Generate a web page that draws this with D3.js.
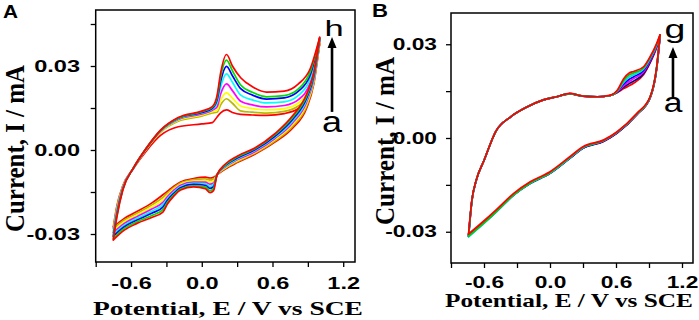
<!DOCTYPE html>
<html lang="en">
<head>
<meta charset="UTF-8">
<title>Cyclic voltammograms A and B</title>
<script src="https://d3js.org/d3.v7.min.js"></script>
<style>
  body { margin: 0; background: #fff; }
  svg { display: block; }
  .tick text { font-family: "Liberation Sans", Arial, sans-serif; font-weight: bold; font-size: 16px; fill: #000; }
  .tick line { stroke: #000; stroke-width: 1.3px; }
  .title { font-family: "Liberation Serif", "Times New Roman", serif; font-weight: bold; fill: #000; }
  .panel { font-family: "Liberation Sans", Arial, sans-serif; font-weight: bold; }
  .note { font-family: "Liberation Sans", Arial, sans-serif; fill: #000; }
</style>
</head>
<body>
<svg id="chart" width="699" height="320"></svg>
<script>
// ---------- panel A : potentials (V vs SCE), forward scan then reverse scan
const potA_fwd = [-0.75, -0.72, -0.67, -0.58, -0.47, -0.35, -0.2, 0.0, 0.09, 0.13, 0.16, 0.21, 0.26, 0.33, 0.43, 0.55, 0.7, 0.82, 0.92, 1.0];
const potA_rev = [1.0, 0.95, 0.89, 0.77, 0.62, 0.45, 0.3, 0.2, 0.13, 0.10, 0.07, 0.03, -0.07, -0.18, -0.24, -0.29, -0.33, -0.42, -0.55, -0.66, -0.75];

// currents (mA): forward values, then reverse values
const curA_a = [-0.0275, -0.0200, -0.0128, -0.0066, -0.0003, 0.0052, 0.0083, 0.0093, 0.0098, 0.0118, 0.0133, 0.0143, 0.0134, 0.0127, 0.0125, 0.0124, 0.0130, 0.0148, 0.0200, 0.0380,
  0.0380, 0.0235, 0.0150, 0.0078, 0.0028, -0.0015, -0.0045, -0.0068, -0.0088, -0.0097, -0.0100, -0.0097, -0.0102, -0.0114, -0.0130, -0.0147, -0.0160, -0.0188, -0.0220, -0.0245, -0.0275];
const curA_b = [-0.0281, -0.0205, -0.0130, -0.0066, 0.0003, 0.0063, 0.0103, 0.0121, 0.0132, 0.0135, 0.0161, 0.0183, 0.0167, 0.0140, 0.0135, 0.0132, 0.0138, 0.0157, 0.0214, 0.0383,
  0.0383, 0.0241, 0.0157, 0.0084, 0.0032, -0.0012, -0.0042, -0.0065, -0.0088, -0.0104, -0.0107, -0.0103, -0.0106, -0.0118, -0.0135, -0.0153, -0.0169, -0.0195, -0.0226, -0.0251, -0.0281];
const curA_c = [-0.0288, -0.0211, -0.0132, -0.0065, 0.0004, 0.0065, 0.0106, 0.0125, 0.0138, 0.0142, 0.0177, 0.0204, 0.0185, 0.0157, 0.0148, 0.0143, 0.0148, 0.0168, 0.0227, 0.0387,
  0.0387, 0.0247, 0.0165, 0.0091, 0.0037, -0.0009, -0.0038, -0.0063, -0.0088, -0.0111, -0.0115, -0.0109, -0.0111, -0.0122, -0.0140, -0.0160, -0.0178, -0.0203, -0.0232, -0.0257, -0.0288];
const curA_d = [-0.0295, -0.0217, -0.0134, -0.0065, 0.0005, 0.0067, 0.0109, 0.0129, 0.0142, 0.0154, 0.0200, 0.0236, 0.0212, 0.0174, 0.0161, 0.0154, 0.0159, 0.0180, 0.0241, 0.0390,
  0.0390, 0.0252, 0.0172, 0.0097, 0.0041, -0.0006, -0.0035, -0.0060, -0.0088, -0.0118, -0.0122, -0.0115, -0.0115, -0.0126, -0.0145, -0.0166, -0.0187, -0.0210, -0.0238, -0.0263, -0.0295];
const curA_e = [-0.0301, -0.0222, -0.0137, -0.0065, 0.0006, 0.0068, 0.0111, 0.0132, 0.0146, 0.0168, 0.0225, 0.0272, 0.0242, 0.0196, 0.0179, 0.0168, 0.0172, 0.0195, 0.0254, 0.0393,
  0.0393, 0.0258, 0.0179, 0.0103, 0.0045, -0.0002, -0.0032, -0.0058, -0.0088, -0.0124, -0.0130, -0.0120, -0.0119, -0.0131, -0.0151, -0.0173, -0.0195, -0.0218, -0.0244, -0.0269, -0.0301];
const curA_f = [-0.0308, -0.0228, -0.0139, -0.0065, 0.0006, 0.0069, 0.0113, 0.0134, 0.0149, 0.0179, 0.0245, 0.0299, 0.0265, 0.0219, 0.0196, 0.0182, 0.0186, 0.0210, 0.0268, 0.0397,
  0.0397, 0.0263, 0.0186, 0.0109, 0.0049, 0.0001, -0.0029, -0.0055, -0.0088, -0.0131, -0.0137, -0.0126, -0.0123, -0.0135, -0.0156, -0.0179, -0.0204, -0.0225, -0.0250, -0.0275, -0.0308];
const curA_g = [-0.0315, -0.0234, -0.0141, -0.0064, 0.0007, 0.0070, 0.0114, 0.0137, 0.0152, 0.0187, 0.0261, 0.0321, 0.0283, 0.0232, 0.0206, 0.0190, 0.0194, 0.0218, 0.0279, 0.0399,
  0.0399, 0.0269, 0.0193, 0.0116, 0.0054, 0.0004, -0.0025, -0.0053, -0.0088, -0.0138, -0.0145, -0.0132, -0.0128, -0.0139, -0.0161, -0.0186, -0.0213, -0.0233, -0.0256, -0.0281, -0.0315];
const curA_h = [-0.0321, -0.0239, -0.0143, -0.0064, 0.0007, 0.0071, 0.0116, 0.0139, 0.0155, 0.0195, 0.0275, 0.0341, 0.0300, 0.0258, 0.0226, 0.0207, 0.0210, 0.0236, 0.0290, 0.0402,
  0.0402, 0.0275, 0.0200, 0.0122, 0.0058, 0.0007, -0.0022, -0.0050, -0.0088, -0.0145, -0.0152, -0.0138, -0.0132, -0.0143, -0.0166, -0.0192, -0.0222, -0.0240, -0.0262, -0.0287, -0.0321];

// ---------- panel B
const potB_fwd = [-0.74, -0.71, -0.67, -0.6, -0.49, -0.36, -0.21, -0.06, 0.06, 0.18, 0.30, 0.43, 0.55, 0.61, 0.67, 0.72, 0.76, 0.85, 0.91, 0.97, 1.0];
const potB_rev = [1.0, 0.97, 0.91, 0.79, 0.61, 0.49, 0.30, 0.18, 0.0, -0.18, -0.33, -0.49, -0.61, -0.74];

const curB_a = [-0.0309, -0.0200, -0.0135, -0.0072, 0.0023, 0.0067, 0.0099, 0.0122, 0.0132, 0.0141, 0.0134, 0.0132, 0.0136, 0.0145, 0.0158, 0.0167, 0.0175, 0.0202, 0.0240, 0.0290, 0.0324,
  0.0324, 0.0222, 0.0128, 0.0075, 0.0016, -0.0010, -0.0032, -0.0064, -0.0112, -0.0144, -0.0181, -0.0234, -0.0272, -0.0309];
const curB_b = [-0.0311, -0.0200, -0.0135, -0.0072, 0.0023, 0.0067, 0.0099, 0.0122, 0.0132, 0.0141, 0.0134, 0.0132, 0.0136, 0.0146, 0.0163, 0.0174, 0.0182, 0.0206, 0.0243, 0.0292, 0.0325,
  0.0325, 0.0223, 0.0128, 0.0075, 0.0016, -0.0010, -0.0033, -0.0065, -0.0113, -0.0145, -0.0182, -0.0235, -0.0273, -0.0311];
const curB_c = [-0.0313, -0.0201, -0.0135, -0.0072, 0.0023, 0.0067, 0.0099, 0.0122, 0.0132, 0.0142, 0.0134, 0.0132, 0.0136, 0.0147, 0.0168, 0.0181, 0.0190, 0.0211, 0.0247, 0.0294, 0.0326,
  0.0326, 0.0224, 0.0129, 0.0076, 0.0017, -0.0009, -0.0032, -0.0064, -0.0112, -0.0145, -0.0182, -0.0236, -0.0274, -0.0313];
const curB_d = [-0.0315, -0.0201, -0.0135, -0.0072, 0.0023, 0.0067, 0.0099, 0.0122, 0.0132, 0.0142, 0.0134, 0.0132, 0.0136, 0.0148, 0.0173, 0.0188, 0.0196, 0.0216, 0.0250, 0.0296, 0.0327,
  0.0327, 0.0225, 0.0130, 0.0077, 0.0017, -0.0009, -0.0032, -0.0065, -0.0113, -0.0146, -0.0183, -0.0237, -0.0275, -0.0315];
const curB_e = [-0.0316, -0.0201, -0.0135, -0.0072, 0.0023, 0.0067, 0.0099, 0.0122, 0.0132, 0.0142, 0.0134, 0.0132, 0.0136, 0.0149, 0.0178, 0.0195, 0.0202, 0.0220, 0.0253, 0.0298, 0.0328,
  0.0328, 0.0226, 0.0130, 0.0077, 0.0018, -0.0008, -0.0031, -0.0064, -0.0112, -0.0145, -0.0183, -0.0237, -0.0276, -0.0316];
const curB_f = [-0.0314, -0.0200, -0.0134, -0.0072, 0.0023, 0.0067, 0.0099, 0.0122, 0.0132, 0.0142, 0.0134, 0.0132, 0.0136, 0.0150, 0.0184, 0.0202, 0.0208, 0.0224, 0.0257, 0.0300, 0.0329,
  0.0329, 0.0227, 0.0131, 0.0078, 0.0019, -0.0007, -0.0030, -0.0063, -0.0111, -0.0144, -0.0182, -0.0236, -0.0275, -0.0314];
const curB_g = [-0.0307, -0.0198, -0.0134, -0.0072, 0.0023, 0.0067, 0.0099, 0.0122, 0.0132, 0.0143, 0.0134, 0.0132, 0.0137, 0.0152, 0.0190, 0.0208, 0.0213, 0.0228, 0.0260, 0.0303, 0.0330,
  0.0330, 0.0228, 0.0132, 0.0079, 0.0020, -0.0006, -0.0028, -0.0060, -0.0108, -0.0140, -0.0177, -0.0230, -0.0268, -0.0307];

// ticks
const xMajor = [-0.6, 0.0, 0.6, 1.2];
const xMinor = [-0.9, -0.3, 0.3, 0.9];
const yMajor = [-0.03, 0.0, 0.03];
const yMinorA = [-0.015, 0.015, 0.045];
const yMinorB = [-0.015, 0.015];

const colorsA = ['#ff0000', '#b8b800', '#ffff00', '#ff00ff', '#00ffff', '#0000ff', '#00dd00', '#ff0000'];
const colorsB = ['#ff0000', '#000080', '#ff00ff', '#0000ff', '#00e0e0', '#00cc00', '#ff0000'];

const svg = d3.select('#chart');

function stretchText(sel, k) {
  sel.each(function() {
    const w = this.getComputedTextLength();
    if (w > 0) d3.select(this).attr('textLength', w * k).attr('lengthAdjust', 'spacingAndGlyphs');
  });
}

function drawPanel(p) {
  const x = d3.scaleLinear().domain([-0.9, 1.3]).range([p.left, p.right]);
  const y = d3.scaleLinear().domain(p.yDomain).range([p.bottom, p.top]);
  const g = svg.append('g');

  const line = d3.line()
    .x(d => x(d[0]))
    .y(d => y(d[1]))
    .curve(d3.curveMonotoneX);

  const n = p.fwd.length;
  p.series.forEach((cur, k) => {
    const up = p.fwd.map((v, i) => [v, cur[i]]);
    const down = p.rev.map((v, i) => [v, cur[n + i]]).reverse();
    [up, down].forEach(br => {
      g.append('path')
        .attr('d', line(br))
        .attr('fill', 'none')
        .attr('stroke', p.colors[k])
        .attr('stroke-width', 1.7)
        .attr('stroke-linejoin', 'round')
        .attr('stroke-linecap', 'round');
    });
  });

  // axes
  const xa = g.append('g')
    .attr('transform', `translate(0,${p.bottom})`)
    .call(d3.axisBottom(x)
      .tickValues(xMajor.concat(xMinor))
      .tickSize(5)
      .tickPadding(p.xPad)
      .tickFormat(d => xMajor.includes(d) ? d.toFixed(1) : ''));
  const ya = g.append('g')
    .attr('transform', `translate(${p.left},0)`)
    .call(d3.axisLeft(y)
      .tickValues(yMajor.concat(p.yMinor))
      .tickSize(5)
      .tickPadding(p.yPad)
      .tickFormat(d => yMajor.includes(d) ? d.toFixed(2) : ''));
  xa.select('.domain').remove();
  ya.select('.domain').remove();
  stretchText(xa.selectAll('text'), p.stretch);
  stretchText(ya.selectAll('text'), p.stretch);

  g.append('rect')
    .attr('x', p.left).attr('y', p.top)
    .attr('width', p.right - p.left).attr('height', p.bottom - p.top)
    .attr('fill', 'none').attr('stroke', '#000').attr('stroke-width', 1.5);

  // axis titles
  g.append('text').attr('class', 'title')
    .attr('x', p.xTitle[0]).attr('y', p.xTitle[1])
    .attr('text-anchor', 'middle').attr('font-size', 19)
    .attr('textLength', p.xTitle[2]).attr('lengthAdjust', 'spacingAndGlyphs')
    .text('Potential, E / V vs SCE');
  g.append('text').attr('class', 'title')
    .attr('transform', `translate(${p.yTitle[0]},${p.yTitle[1]}) scale(1.2,1) rotate(-90)`)
    .attr('text-anchor', 'middle').attr('font-size', 22)
    .attr('textLength', p.yTitle[2]).attr('lengthAdjust', 'spacingAndGlyphs')
    .text('Current, I / mA');

  // panel letter
  g.append('text').attr('class', 'panel')
    .attr('x', p.label[0]).attr('y', p.label[1])
    .attr('font-size', p.label[3])
    .attr('textLength', p.label[2]).attr('lengthAdjust', 'spacingAndGlyphs')
    .text(p.name);

  // arrow annotation a -> last curve
  const ax = x(p.arrow.v);
  const tip = y(p.arrow.top), tail = y(p.arrow.bottom);
  g.append('line')
    .attr('x1', ax).attr('x2', ax).attr('y1', tail).attr('y2', tip + 9)
    .attr('stroke', '#000').attr('stroke-width', 2.6);
  g.append('path')
    .attr('d', `M${ax},${tip} L${ax - 4.5},${tip + 11} L${ax + 4.5},${tip + 11} Z`)
    .attr('fill', '#000');
  g.append('text').attr('class', 'note')
    .attr('transform', `translate(${ax + 2},${y(p.arrow.hiText)}) scale(1.5,1)`)
    .attr('text-anchor', 'middle').attr('font-size', p.arrow.hiSize)
    .text(p.arrow.hi);
  g.append('text').attr('class', 'note')
    .attr('transform', `translate(${ax},${y(p.arrow.loText)}) scale(1.2,1)`)
    .attr('text-anchor', 'middle').attr('font-size', p.arrow.loSize)
    .text('a');
}

drawPanel({
  name: 'A', left: 95.7, right: 355, top: 10, bottom: 262,
  yDomain: [-0.04, 0.05], yMinor: yMinorA,
  fwd: potA_fwd, rev: potA_rev,
  series: [curA_a, curA_b, curA_c, curA_d, curA_e, curA_f, curA_g, curA_h],
  colors: colorsA,
  xPad: 11, yPad: 10.7, stretch: 1.47,
  xTitle: [228, 315, 270], yTitle: [24, 148.5, 167], label: [3, 18, 15, 18],
  arrow: { v: 1.105, top: 0.0404, bottom: 0.0136, hi: 'h', hiText: 0.0406, hiSize: 23, loText: 0.0065, loSize: 30 }
});

drawPanel({
  name: 'B', left: 451, right: 693, top: 13, bottom: 263,
  yDomain: [-0.04, 0.04], yMinor: yMinorB,
  fwd: potB_fwd, rev: potB_rev,
  series: [curB_a, curB_b, curB_c, curB_d, curB_e, curB_f, curB_g],
  colors: colorsB,
  xPad: 9, yPad: 9, stretch: 1.42,
  xTitle: [569, 307, 248], yTitle: [394, 141, 168], label: [372, 17, 16, 19],
  arrow: { v: 1.118, top: 0.0291, bottom: 0.0131, hi: 'g', hiText: 0.0320, hiSize: 25, loText: 0.0083, loSize: 28 }
});
</script>
</body>
</html>
